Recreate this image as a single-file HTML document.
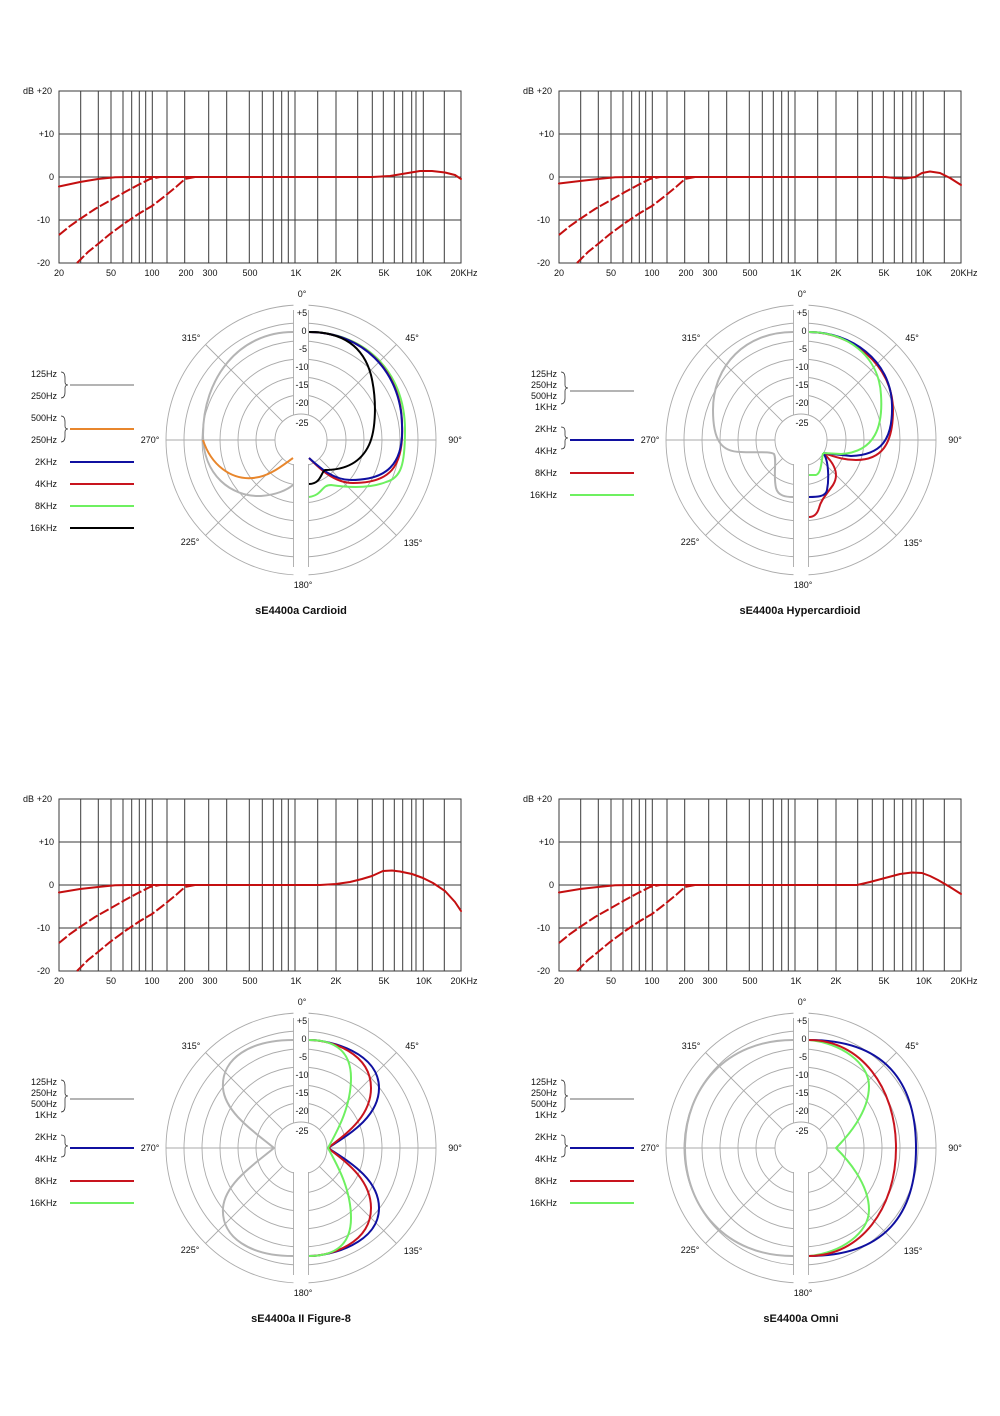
<!DOCTYPE html>
<html><head><meta charset="utf-8"><style>
html,body{margin:0;padding:0;background:#fff;}
svg{display:block;font-family:"Liberation Sans",Arial,sans-serif;}
.t{font-size:9px;fill:#111;}
.ti{font-size:11px;font-weight:bold;fill:#111;}
.g{stroke:#3a3a3a;stroke-width:1;fill:none;}
.pr{stroke:#aaa;stroke-width:0.9;fill:none;}
.fr{stroke:#c40f10;stroke-width:2;fill:none;stroke-linejoin:round;stroke-linecap:round;}
.fd{stroke:#c40f10;stroke-width:2;fill:none;stroke-dasharray:10 2.5;}
.c{fill:none;stroke-width:2;stroke-linejoin:round;}
</style></head><body>
<svg width="1000" height="1416" viewBox="0 0 1000 1416" xmlns="http://www.w3.org/2000/svg">
<defs>
<g id="fg">
<path class="g" d="M80.7,91V263M98.3,91V263M111,91V263M123,91V263M131.7,91V263M139.3,91V263M145.7,91V263M152.3,91V263M167,91V263M184.7,91V263M208.7,91V263M226.7,91V263M249.3,91V263M262.3,91V263M273.3,91V263M281.7,91V263M288.3,91V263M295,91V263M317.7,91V263M336,91V263M357.7,91V263M372.3,91V263M383.3,91V263M394.3,91V263M402.7,91V263M411.7,91V263M416,91V263M423.3,91V263M444.3,91V263M59,134H461M59,177H461M59,220H461"/>
<rect class="g" x="59" y="91" width="402" height="172"/>
<polyline class="fd" points="59,235 70,226 80,219 95,209 111,200 125,192 138,185 150,179 160,177"/>
<polyline class="fd" points="77,263 88,252 98,244 110,234 125,223 140,213 152,206 165,196 176,187 185,179 195,177"/>
</g>
<g id="pg">
<circle class="pr" r="135"/><circle class="pr" r="117"/><circle class="pr" r="99"/><circle class="pr" r="81"/><circle class="pr" r="63"/><circle class="pr" r="45"/>
<path class="pr" d="M-135,0H135M18.4,-18.4L95.5,-95.5M-18.4,-18.4L-95.5,-95.5M18.4,18.4L95.5,95.5M-18.4,18.4L-95.5,95.5"/>
<rect x="-7.5" y="-137" width="15" height="274" fill="#fff"/>
<circle r="26" fill="#fff" stroke="#aaa" stroke-width="0.9"/>
<rect x="-7.5" y="18" width="15" height="119" fill="#fff"/>
<path class="pr" d="M-7.5,-130V-25M7.5,-130V-25M-7.5,24V127M7.5,24V127"/>
</g>
</defs>

<!-- ========== TOP LEFT ========== -->
<use href="#fg"/>
<polyline class="fr" points="59,186.5 80,182 98,179 115,177.3 130,177 372,177 390,176 405,173.5 420,171 432,171 445,172.5 455,175 461,179"/>
<g class="t">
<text x="23" y="94">dB</text><text x="52" y="94" text-anchor="end">+20</text>
<text x="54" y="137" text-anchor="end">+10</text><text x="54" y="180" text-anchor="end">0</text>
<text x="50" y="223" text-anchor="end">-10</text><text x="50" y="266" text-anchor="end">-20</text>
<g text-anchor="middle"><text x="59" y="276">20</text><text x="111" y="276">50</text><text x="152" y="276">100</text><text x="186" y="276">200</text><text x="210" y="276">300</text><text x="250" y="276">500</text><text x="296" y="276">1K</text><text x="336" y="276">2K</text><text x="384" y="276">5K</text><text x="424" y="276">10K</text><text x="464" y="276">20KHz</text></g>
</g>
<g transform="translate(301,440)">
<use href="#pg"/>
<path class="c" stroke="#b4b4b4" d="M-8,-108 C-62,-108 -98,-62 -98,-5 C-98,35 -70,57 -40,56 C-25,55 -14,50 -8,45"/>
<path class="c" stroke="#e8862c" d="M-98,0 C-90,25 -70,40 -48,38 C-32,37 -18,25 -8,18"/>
<path class="c" stroke="#6ef060" d="M8,-108 C62,-108 104,-70 104,-10 C104,25 100,38 85,42 C70,48 50,48 30,45 C20,45 22,55 8,57"/>
<path class="c" stroke="#c8141e" d="M8,-108 C60,-108 101,-70 101,-15 C103,28 88,43 52,43 C33,43 18,28 8,18"/>
<path class="c" stroke="#1010a0" d="M8,-108 C60,-108 100,-70 101,-15 C103,25 85,40 50,40 C32,40 18,27 8,18"/>
<path class="c" stroke="#000" d="M8,-108 C40,-108 62,-95 70,-65 C76,-40 75,-10 68,5 C60,22 45,30 24,30 C20,32 20,44 8,44"/>
<g class="t" text-anchor="middle"><text x="1" y="-143">0°</text><text x="1" y="-124">+5</text><text x="3" y="-106">0</text><text x="2" y="-88">-5</text><text x="1" y="-70">-10</text><text x="1" y="-52">-15</text><text x="1" y="-34">-20</text><text x="1" y="-14">-25</text>
<text x="-110" y="-99">315°</text><text x="111" y="-99">45°</text><text x="-151" y="3">270°</text><text x="154" y="3">90°</text><text x="-111" y="105">225°</text><text x="112" y="106">135°</text><text x="2" y="148">180°</text></g>
</g>
<g class="t" text-anchor="end"><text x="57" y="377">125Hz</text><text x="57" y="399">250Hz</text><text x="57" y="421">500Hz</text><text x="57" y="443">250Hz</text><text x="57" y="465">2KHz</text><text x="57" y="487">4KHz</text><text x="57" y="509">8KHz</text><text x="57" y="531">16KHz</text></g>
<path d="M61,372 q4,0 4,6 v4 q0,3 3,3 q-3,0 -3,3 v4 q0,6 -4,6 M61,416 q4,0 4,6 v4 q0,3 3,3 q-3,0 -3,3 v4 q0,6 -4,6" fill="none" stroke="#333" stroke-width="0.8"/>
<path stroke-width="2" d="M70,385H134" stroke="#b4b4b4"/><path stroke-width="2" d="M70,429H134" stroke="#e8862c"/><path stroke-width="2" d="M70,462H134" stroke="#1010a0"/><path stroke-width="2" d="M70,484H134" stroke="#c8141e"/><path stroke-width="2" d="M70,506H134" stroke="#6ef060"/><path stroke-width="2" d="M70,528H134" stroke="#000"/>
<text class="ti" x="301" y="614" text-anchor="middle">sE4400a  Cardioid</text>

<!-- ========== TOP RIGHT ========== -->
<g transform="translate(500,0)">
<use href="#fg"/>
<polyline class="fr" points="59,183.5 80,181 98,179 115,177.3 130,177 385,177 395,178 405,178.5 415,177 422,173 430,171.5 440,173 450,178 461,185"/>
<g class="t">
<text x="23" y="94">dB</text><text x="52" y="94" text-anchor="end">+20</text>
<text x="54" y="137" text-anchor="end">+10</text><text x="54" y="180" text-anchor="end">0</text>
<text x="50" y="223" text-anchor="end">-10</text><text x="50" y="266" text-anchor="end">-20</text>
<g text-anchor="middle"><text x="59" y="276">20</text><text x="111" y="276">50</text><text x="152" y="276">100</text><text x="186" y="276">200</text><text x="210" y="276">300</text><text x="250" y="276">500</text><text x="296" y="276">1K</text><text x="336" y="276">2K</text><text x="384" y="276">5K</text><text x="424" y="276">10K</text><text x="464" y="276">20KHz</text></g>
</g>
</g>
<g transform="translate(801,440)">
<use href="#pg"/>
<path class="c" stroke="#b4b4b4" d="M-8,-108 C-55,-108 -88,-75 -88,-30 C-88,0 -80,12 -60,12 C-45,13 -32,11 -27,14 C-24,20 -28,35 -25,48 C-23,56 -15,57 -8,57"/>
<path class="c" stroke="#c8141e" d="M8,-108 C50,-108 92,-75 92,-30 C92,5 80,20 55,20 C40,20 30,15 22,13 M22,13 C30,20 40,32 32,45 C25,55 20,60 18,68 C16,75 12,77 8,77"/>
<path class="c" stroke="#1010a0" d="M8,-108 C50,-108 90,-80 91,-35 C92,0 80,15 50,16 L22,13 M22,13 C28,20 28,40 26,50 C25,57 15,57 8,57"/>
<path class="c" stroke="#6ef060" d="M8,-108 C45,-108 78,-85 80,-45 C82,-15 75,12 40,14 L22,13 M22,13 C20,25 20,33 15,35 L8,35"/>
<g class="t" text-anchor="middle"><text x="1" y="-143">0°</text><text x="1" y="-124">+5</text><text x="3" y="-106">0</text><text x="2" y="-88">-5</text><text x="1" y="-70">-10</text><text x="1" y="-52">-15</text><text x="1" y="-34">-20</text><text x="1" y="-14">-25</text>
<text x="-110" y="-99">315°</text><text x="111" y="-99">45°</text><text x="-151" y="3">270°</text><text x="154" y="3">90°</text><text x="-111" y="105">225°</text><text x="112" y="106">135°</text><text x="2" y="148">180°</text></g>
</g>
<g class="t" text-anchor="end"><text x="557" y="377">125Hz</text><text x="557" y="388">250Hz</text><text x="557" y="399">500Hz</text><text x="557" y="410">1KHz</text><text x="557" y="432">2KHz</text><text x="557" y="454">4KHz</text><text x="557" y="476">8KHz</text><text x="557" y="498">16KHz</text></g>
<path d="M561,372 q4,0 4,6 v7 q0,3 3,3 q-3,0 -3,3 v7 q0,6 -4,6 M561,427 q4,0 4,4 v4 q0,3 3,3 q-3,0 -3,3 v4 q0,4 -4,4" fill="none" stroke="#333" stroke-width="0.8"/>
<path stroke-width="2" d="M570,391H634" stroke="#b4b4b4"/><path stroke-width="2" d="M570,440H634" stroke="#1010a0"/><path stroke-width="2" d="M570,473H634" stroke="#c8141e"/><path stroke-width="2" d="M570,495H634" stroke="#6ef060"/>
<text class="ti" x="800" y="614" text-anchor="middle">sE4400a  Hypercardioid</text>

<!-- ========== BOTTOM LEFT ========== -->
<g transform="translate(0,708)">
<use href="#fg"/>
<polyline class="fr" points="59,184.5 80,181 98,179 115,177.3 130,177 320,177 336,176 350,174 362,171 372,168 383,163 392,162.5 400,163.5 412,166 423,170 433,175 445,183 455,194 461,203"/>
<g class="t">
<text x="23" y="94">dB</text><text x="52" y="94" text-anchor="end">+20</text>
<text x="54" y="137" text-anchor="end">+10</text><text x="54" y="180" text-anchor="end">0</text>
<text x="50" y="223" text-anchor="end">-10</text><text x="50" y="266" text-anchor="end">-20</text>
<g text-anchor="middle"><text x="59" y="276">20</text><text x="111" y="276">50</text><text x="152" y="276">100</text><text x="186" y="276">200</text><text x="210" y="276">300</text><text x="250" y="276">500</text><text x="296" y="276">1K</text><text x="336" y="276">2K</text><text x="384" y="276">5K</text><text x="424" y="276">10K</text><text x="464" y="276">20KHz</text></g>
</g>
</g>
<g transform="translate(301,1148)">
<use href="#pg"/>
<path class="c" stroke="#b4b4b4" d="M-8,-108 C-50,-108 -80,-90 -78,-60 C-76,-35 -45,-15 -27,0 C-45,15 -76,35 -78,60 C-80,90 -50,108 -8,108"/>
<path class="c" stroke="#1010a0" d="M8,-108 C30,-108 78,-95 78,-60 C78,-30 45,-12 27,0 C45,12 78,30 78,60 C78,95 30,108 8,108"/>
<path class="c" stroke="#c8141e" d="M8,-108 C30,-108 70,-95 70,-60 C70,-30 42,-12 27,0 C42,12 70,30 70,60 C70,95 30,108 8,108"/>
<path class="c" stroke="#6ef060" d="M8,-108 C30,-108 50,-100 50,-70 C50,-40 35,-15 27,0 C35,15 50,40 50,70 C50,100 30,108 8,108"/>
<g class="t" text-anchor="middle"><text x="1" y="-143">0°</text><text x="1" y="-124">+5</text><text x="3" y="-106">0</text><text x="2" y="-88">-5</text><text x="1" y="-70">-10</text><text x="1" y="-52">-15</text><text x="1" y="-34">-20</text><text x="1" y="-14">-25</text>
<text x="-110" y="-99">315°</text><text x="111" y="-99">45°</text><text x="-151" y="3">270°</text><text x="154" y="3">90°</text><text x="-111" y="105">225°</text><text x="112" y="106">135°</text><text x="2" y="148">180°</text></g>
</g>
<g class="t" text-anchor="end"><text x="57" y="1085">125Hz</text><text x="57" y="1096">250Hz</text><text x="57" y="1107">500Hz</text><text x="57" y="1118">1KHz</text><text x="57" y="1140">2KHz</text><text x="57" y="1162">4KHz</text><text x="57" y="1184">8KHz</text><text x="57" y="1206">16KHz</text></g>
<path d="M61,1080 q4,0 4,6 v7 q0,3 3,3 q-3,0 -3,3 v7 q0,6 -4,6 M61,1135 q4,0 4,4 v4 q0,3 3,3 q-3,0 -3,3 v4 q0,4 -4,4" fill="none" stroke="#333" stroke-width="0.8"/>
<path stroke-width="2" d="M70,1099H134" stroke="#b4b4b4"/><path stroke-width="2" d="M70,1148H134" stroke="#1010a0"/><path stroke-width="2" d="M70,1181H134" stroke="#c8141e"/><path stroke-width="2" d="M70,1203H134" stroke="#6ef060"/>
<text class="ti" x="301" y="1322" text-anchor="middle">sE4400a II Figure-8</text>

<!-- ========== BOTTOM RIGHT ========== -->
<g transform="translate(500,708)">
<use href="#fg"/>
<polyline class="fr" points="59,184.5 80,181 98,179 115,177.3 130,177 357,177 370,174 385,170 400,166 412,164.5 422,165 430,168 438,172 450,179 461,186"/>
<g class="t">
<text x="23" y="94">dB</text><text x="52" y="94" text-anchor="end">+20</text>
<text x="54" y="137" text-anchor="end">+10</text><text x="54" y="180" text-anchor="end">0</text>
<text x="50" y="223" text-anchor="end">-10</text><text x="50" y="266" text-anchor="end">-20</text>
<g text-anchor="middle"><text x="59" y="276">20</text><text x="111" y="276">50</text><text x="152" y="276">100</text><text x="186" y="276">200</text><text x="210" y="276">300</text><text x="250" y="276">500</text><text x="296" y="276">1K</text><text x="336" y="276">2K</text><text x="384" y="276">5K</text><text x="424" y="276">10K</text><text x="464" y="276">20KHz</text></g>
</g>
</g>
<g transform="translate(801,1148)">
<use href="#pg"/>
<path class="c" stroke="#b4b4b4" d="M-8,-108 C-75,-108 -116,-60 -116,0 C-116,60 -75,108 -8,108"/>
<path class="c" stroke="#1010a0" d="M8,-108 C85,-108 115,-65 115,0 C115,65 85,108 8,108"/>
<path class="c" stroke="#6ef060" d="M8,-108 C40,-105 68,-85 68,-62 C68,-35 45,-10 35,0 C45,10 68,35 68,62 C68,85 40,105 8,108"/>
<path class="c" stroke="#c8141e" d="M8,-108 C60,-108 95,-60 95,0 C95,60 60,108 8,108"/>
<g class="t" text-anchor="middle"><text x="1" y="-143">0°</text><text x="1" y="-124">+5</text><text x="3" y="-106">0</text><text x="2" y="-88">-5</text><text x="1" y="-70">-10</text><text x="1" y="-52">-15</text><text x="1" y="-34">-20</text><text x="1" y="-14">-25</text>
<text x="-110" y="-99">315°</text><text x="111" y="-99">45°</text><text x="-151" y="3">270°</text><text x="154" y="3">90°</text><text x="-111" y="105">225°</text><text x="112" y="106">135°</text><text x="2" y="148">180°</text></g>
</g>
<g class="t" text-anchor="end"><text x="557" y="1085">125Hz</text><text x="557" y="1096">250Hz</text><text x="557" y="1107">500Hz</text><text x="557" y="1118">1KHz</text><text x="557" y="1140">2KHz</text><text x="557" y="1162">4KHz</text><text x="557" y="1184">8KHz</text><text x="557" y="1206">16KHz</text></g>
<path d="M561,1080 q4,0 4,6 v7 q0,3 3,3 q-3,0 -3,3 v7 q0,6 -4,6 M561,1135 q4,0 4,4 v4 q0,3 3,3 q-3,0 -3,3 v4 q0,4 -4,4" fill="none" stroke="#333" stroke-width="0.8"/>
<path stroke-width="2" d="M570,1099H634" stroke="#b4b4b4"/><path stroke-width="2" d="M570,1148H634" stroke="#1010a0"/><path stroke-width="2" d="M570,1181H634" stroke="#c8141e"/><path stroke-width="2" d="M570,1203H634" stroke="#6ef060"/>
<text class="ti" x="801" y="1322" text-anchor="middle">sE4400a Omni</text>
</svg>
</body></html>
